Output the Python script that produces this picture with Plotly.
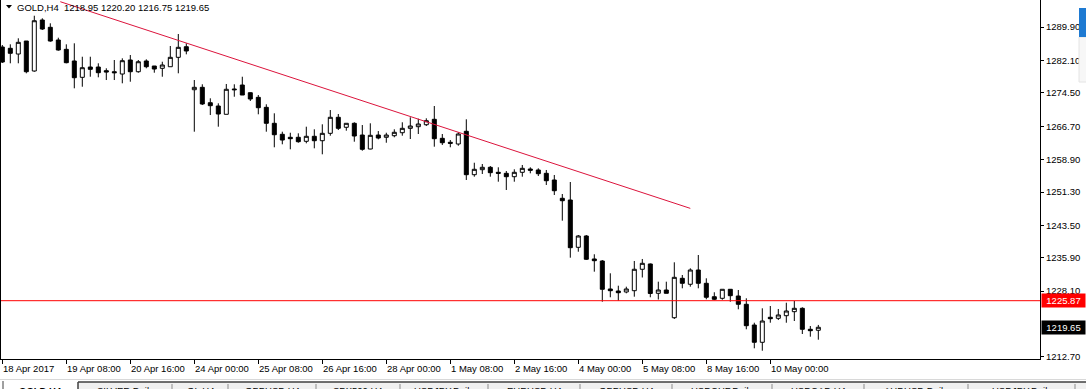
import plotly.graph_objects as go

# ---------------- data ----------------
symbol = "GOLD"
timeframe = "H4"

opens = [1285.22, 1284.92, 1283.58, 1286.62, 1279.61, 1291.54, 1289.83, 1286.86, 1284.68, 1281.95,
         1278.13, 1280.54, 1280.54, 1279.68, 1279.44, 1278.90, 1282.18, 1279.44, 1281.95, 1280.78,
         1280.24, 1280.61, 1282.81, 1285.29, 1275.23, 1275.79, 1272.19, 1271.42, 1269.48, 1275.40,
         1276.33, 1274.53, 1273.45, 1271.11, 1267.37, 1264.80, 1264.10, 1264.10, 1263.16, 1264.33,
         1263.30, 1265.03, 1268.78, 1266.44, 1267.37, 1264.63, 1261.36, 1264.63, 1264.10, 1264.47,
         1265.17, 1266.20, 1266.58, 1267.04, 1268.31, 1263.86, 1262.93, 1262.53, 1265.50, 1255.35,
         1256.52, 1257.08, 1255.91, 1255.67, 1254.88, 1255.91, 1256.68, 1256.45, 1255.67, 1254.11,
         1249.83, 1249.43, 1238.36, 1241.01, 1235.63, 1235.16, 1228.61, 1228.14, 1227.91, 1228.21,
         1233.22, 1234.46, 1227.60, 1228.37, 1221.89, 1231.11, 1229.71, 1233.05, 1229.94, 1226.80,
         1226.43, 1228.54, 1226.97, 1225.03, 1220.18, 1216.14, 1221.99, 1221.75, 1222.36, 1223.30,
         1224.09, 1219.18, 1218.95]
highs = [1285.69, 1285.85, 1287.26, 1286.62, 1292.54, 1291.94, 1290.77, 1287.40, 1285.85, 1286.09,
         1282.95, 1282.95, 1281.41, 1280.24, 1282.18, 1282.58, 1283.35, 1282.18, 1282.34, 1280.78,
         1281.78, 1285.46, 1288.26, 1286.09, 1277.50, 1276.50, 1273.22, 1272.05, 1276.57, 1276.50,
         1278.27, 1274.62, 1273.99, 1271.82, 1269.71, 1265.41, 1265.17, 1265.03, 1266.58, 1265.97,
         1267.14, 1270.48, 1269.55, 1267.37, 1267.61, 1266.97, 1267.37, 1265.56, 1265.17, 1265.97,
         1267.61, 1268.78, 1268.45, 1268.54, 1271.42, 1264.87, 1263.46, 1265.27, 1268.31, 1258.15,
         1257.85, 1257.38, 1257.08, 1256.21, 1256.61, 1257.62, 1257.08, 1256.84, 1256.45, 1255.28,
         1250.83, 1253.64, 1241.24, 1241.24, 1236.73, 1235.39, 1232.28, 1229.38, 1229.15, 1235.16,
         1235.63, 1234.57, 1230.32, 1230.32, 1234.85, 1231.88, 1233.45, 1236.56, 1231.11, 1227.84,
         1228.54, 1228.60, 1228.37, 1226.43, 1220.72, 1224.09, 1224.63, 1223.93, 1225.40, 1225.80,
         1224.33, 1219.95, 1220.20]
lows = [1281.48, 1281.41, 1281.41, 1279.07, 1279.44, 1289.20, 1286.46, 1284.36, 1281.41, 1275.56,
        1275.93, 1278.27, 1278.13, 1277.50, 1277.50, 1276.73, 1277.10, 1279.21, 1280.24, 1279.21,
        1278.27, 1280.61, 1279.07, 1283.51, 1265.41, 1271.65, 1269.31, 1266.58, 1269.48, 1273.59,
        1273.99, 1272.59, 1269.48, 1265.41, 1261.76, 1262.46, 1261.29, 1262.83, 1262.69, 1261.52,
        1260.12, 1264.47, 1265.80, 1265.64, 1263.07, 1260.96, 1261.29, 1263.62, 1262.83, 1264.10,
        1264.47, 1263.70, 1264.87, 1266.74, 1261.90, 1262.30, 1261.76, 1262.13, 1254.11, 1254.88,
        1255.51, 1254.88, 1253.71, 1251.77, 1253.71, 1254.88, 1255.67, 1255.04, 1252.94, 1250.60,
        1244.59, 1235.93, 1237.33, 1235.39, 1232.66, 1225.64, 1226.67, 1225.87, 1227.60, 1226.81,
        1231.30, 1226.67, 1226.15, 1227.60, 1221.59, 1228.77, 1229.15, 1228.77, 1226.20, 1226.00,
        1226.10, 1225.64, 1223.86, 1219.18, 1214.73, 1214.17, 1220.72, 1221.35, 1220.72, 1221.12,
        1218.08, 1217.45, 1216.75]
closes = [1281.71, 1283.75, 1286.32, 1279.44, 1291.37, 1289.43, 1286.62, 1284.52, 1281.55, 1278.04,
          1280.38, 1280.00, 1279.21, 1279.37, 1279.21, 1282.02, 1279.44, 1281.78, 1280.61, 1280.07,
          1281.01, 1282.81, 1285.15, 1284.29, 1275.79, 1271.89, 1271.49, 1269.55, 1275.33, 1275.23,
          1273.99, 1273.06, 1271.02, 1267.37, 1264.70, 1263.46, 1263.77, 1263.07, 1264.33, 1263.30,
          1265.03, 1268.78, 1266.20, 1267.37, 1264.40, 1261.29, 1264.56, 1263.93, 1264.63, 1265.27,
          1266.20, 1266.74, 1267.21, 1267.98, 1263.77, 1262.83, 1262.69, 1264.87, 1255.35, 1256.61,
          1257.08, 1255.82, 1255.67, 1254.88, 1255.91, 1256.84, 1256.38, 1255.58, 1253.94, 1251.60,
          1249.26, 1238.27, 1241.01, 1235.56, 1235.23, 1228.54, 1228.21, 1227.74, 1228.61, 1233.22,
          1234.62, 1227.56, 1228.37, 1227.60, 1231.34, 1229.94, 1233.05, 1229.94, 1226.67, 1226.20,
          1228.54, 1227.04, 1225.03, 1220.02, 1216.14, 1221.12, 1221.66, 1222.53, 1223.46, 1224.09,
          1219.18, 1218.85, 1219.65]
bar_index = list(range(len(opens)))

tick_index = [0, 8, 16, 24, 32, 40, 48, 56, 64, 72, 80, 88, 96]
tick_labels = ["18 Apr 2017", "19 Apr 08:00", "20 Apr 16:00", "24 Apr 00:00", "25 Apr 08:00",
               "26 Apr 16:00", "28 Apr 00:00", "1 May 08:00", "2 May 16:00", "4 May 00:00",
               "5 May 08:00", "8 May 16:00", "10 May 00:00"]

price_ticks = [1289.90, 1282.10, 1274.50, 1266.70, 1258.90, 1251.30, 1243.50,
               1235.90, 1228.10, 1212.70]

level_price = 1225.87
trend_index = [7.25, 86.0]
trend_price = [1295.82, 1247.47]

tab_labels = ["GOLD,H4", "SILVER,Daily", "GL,H4", "GBPUSD,H4", "SPX500,H4", "USDJPY,Daily",
              "EURUSD,H4", "GBPUSD,H4", "USDCHF,Daily", "USDCAD,H4", "AUDUSD,Daily", "USDJPY,Daily"]

# ---------------- layout constants ----------------
W, H = 1086, 389
PL, PR, PT, PB = 1, 46, 0, 30
PW = W - PL - PR
PH = H - PT - PB
x_range = [-0.1625, 129.71]
y_range = [1212.23, 1296.22]
FONT = "Liberation Sans, Arial, sans-serif"
FS = 9.5


def px(x):
    return (x - PL) / PW


def py(y):
    return (PT + PH - y) / PH


fig = go.Figure()
fig.add_trace(go.Candlestick(
    x=bar_index, open=opens, high=highs, low=lows, close=closes,
    increasing=dict(line=dict(color="black", width=1), fillcolor="white"),
    decreasing=dict(line=dict(color="black", width=1), fillcolor="black"),
    whiskerwidth=0, hoverinfo="skip", showlegend=False))

fig.add_trace(go.Scatter(x=trend_index, y=trend_price, mode="lines",
                         line=dict(color="#DC143C", width=1), hoverinfo="skip",
                         showlegend=False))

shapes = []
shapes.append(dict(type="line", xref="paper", yref="y", x0=0, x1=1,
                   y0=level_price, y1=level_price, line=dict(color="#FF0000", width=1)))
shapes.append(dict(type="path", xref="paper", yref="paper",
                   path=f"M {px(6)} {py(5)} L {px(12)} {py(5)} L {px(9)} {py(8.5)} Z",
                   fillcolor="black", line=dict(width=0)))
shapes.append(dict(type="rect", xref="paper", yref="paper", x0=px(1079), x1=px(1087),
                   y0=py(82), y1=py(37), fillcolor="#F7F7F7", line=dict(color="#E4E4E4", width=1)))
shapes.append(dict(type="rect", xref="paper", yref="paper", x0=px(1079), x1=px(1087),
                   y0=py(37), y1=py(8), fillcolor="#1E7AD2", line=dict(width=0)))
shapes.append(dict(type="line", xref="paper", yref="paper", x0=px(0), x1=px(W),
                   y0=py(379.5), y1=py(379.5), line=dict(color="#D8D8D8", width=1)))
shapes.append(dict(type="rect", xref="paper", yref="paper", x0=px(78), x1=px(W + 2),
                   y0=py(392), y1=py(382), fillcolor="#F0F0F0", line=dict(width=0)))
shapes.append(dict(type="line", xref="paper", yref="paper", x0=px(78), x1=px(W),
                   y0=py(382), y1=py(382), line=dict(color="#404040", width=1.5)))
shapes.append(dict(type="line", xref="paper", yref="paper", x0=px(78), x1=px(78),
                   y0=py(382), y1=py(392), line=dict(color="#404040", width=1.5)))
shapes.append(dict(type="line", xref="paper", yref="paper", x0=px(3), x1=px(3),
                   y0=py(381), y1=py(392), line=dict(color="#404040", width=1)))
tab_edges = [78, 172, 228, 316, 400, 488, 580, 672, 772, 864, 968, 1075, 1160]
for e in tab_edges[1:-1]:
    shapes.append(dict(type="line", xref="paper", yref="paper", x0=px(e), x1=px(e),
                       y0=py(384), y1=py(392), line=dict(color="#8C8C8C", width=1)))

annotations = []
title_text = (f"{symbol},{timeframe}\u00a0\u00a0{opens[-1]:.2f} {highs[-1]:.2f} "
              f"{lows[-1]:.2f} {closes[-1]:.2f}")
annotations.append(dict(xref="paper", yref="paper", x=px(15), y=py(7), xanchor="left",
                        yanchor="middle", text=title_text, showarrow=False,
                        font=dict(family=FONT, size=FS, color="black")))
for ti, tl in zip(tick_index, tick_labels):
    annotations.append(dict(xref="x", yref="paper", x=ti, y=py(368), xanchor="left",
                            yanchor="middle", xshift=-1, text=tl, showarrow=False,
                            font=dict(family=FONT, size=FS, color="black")))
annotations.append(dict(xref="paper", yref="y", x=1.0, y=level_price, xanchor="left",
                        yanchor="middle", xshift=1, text=f"{level_price:.2f}",
                        bgcolor="#FF0000", font=dict(family=FONT, size=FS, color="white"),
                        showarrow=False, width=41, height=11, borderpad=1, align="center"))
annotations.append(dict(xref="paper", yref="y", x=1.0, y=closes[-1], xanchor="left",
                        yanchor="middle", xshift=1, text=f"{closes[-1]:.2f}",
                        bgcolor="black", font=dict(family=FONT, size=FS, color="white"),
                        showarrow=False, width=41, height=11, borderpad=1, align="center"))
annotations.append(dict(xref="paper", yref="paper", x=px(40), y=py(390), xanchor="center",
                        yanchor="middle", text=f"<b>{tab_labels[0]}</b>", showarrow=False,
                        font=dict(family=FONT, size=FS, color="black")))
for i, lab in enumerate(tab_labels[1:]):
    cx = (tab_edges[i] + tab_edges[i + 1]) / 2
    annotations.append(dict(xref="paper", yref="paper", x=px(cx), y=py(390.5),
                            xanchor="center", yanchor="middle", text=lab, showarrow=False,
                            font=dict(family=FONT, size=FS, color="black")))

fig.update_layout(
    width=W, height=H, margin=dict(l=PL, r=PR, t=PT, b=PB, pad=0),
    paper_bgcolor="white", plot_bgcolor="white", boxgap=0.5, boxgroupgap=0,
    showlegend=False, hovermode=False,
    font=dict(family=FONT, size=FS, color="black"),
    shapes=shapes, annotations=annotations)
fig.update_xaxes(range=x_range, showgrid=False, zeroline=False, showline=True,
                 linecolor="black", linewidth=1, ticks="outside", ticklen=4,
                 tickcolor="black", tickwidth=1, tickvals=tick_index,
                 showticklabels=False, rangeslider_visible=False, fixedrange=True)
fig.update_yaxes(range=y_range, side="right", showgrid=False, zeroline=False,
                 showline=True, mirror=True, linecolor="black", linewidth=1,
                 ticks="outside", ticklen=3, tickcolor="black", tickwidth=1,
                 tickvals=price_ticks, ticktext=[f"{v:.2f}" for v in price_ticks],
                 tickfont=dict(family=FONT, size=FS, color="black"), fixedrange=True)

fig.write_html("out.html", config={"displayModeBar": False},
               post_script="document.body.style.margin='0';document.body.style.overflow='hidden';")
